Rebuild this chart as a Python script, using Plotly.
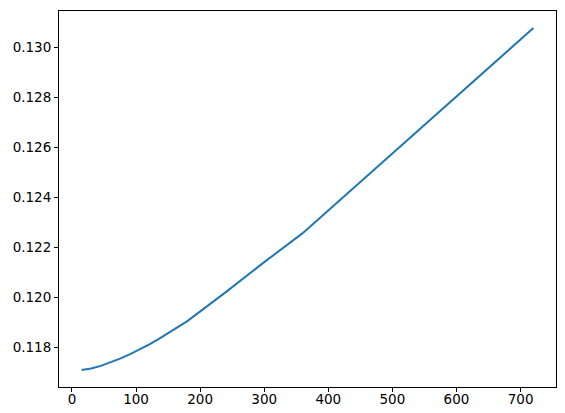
import plotly.graph_objects as go

x_values = [15, 30, 45, 60, 75, 90, 105, 120, 135, 150, 165, 180, 240, 300, 360, 720]
y_values = [0.11709, 0.11715, 0.11725, 0.11738, 0.11754, 0.11771, 0.11790, 0.11810,
            0.11832, 0.11855, 0.11879, 0.11904, 0.12020, 0.12140, 0.12256, 0.13076]
x_ticks = [0, 100, 200, 300, 400, 500, 600, 700]
y_ticks = [0.118, 0.120, 0.122, 0.124, 0.126, 0.128, 0.130]

xmin, xmax = min(x_values), max(x_values)
ymin, ymax = min(y_values), max(y_values)
xpad = 0.05 * (xmax - xmin)
ypad = 0.05 * (ymax - ymin)

fig = go.Figure(go.Scatter(x=x_values, y=y_values, mode="lines",
                           line=dict(color="#1f77b4", width=2)))

axis_common = dict(showline=True, linecolor="black", linewidth=1, mirror=True,
                   ticks="outside", ticklen=4, tickwidth=1, tickcolor="black",
                   showgrid=False, zeroline=False, automargin=False,
                   tickfont=dict(family="DejaVu Sans", size=13.5, color="black"))

# the page body adds an 8px offset, so the figure is sized to fit the window
fig.update_layout(
    width=557, height=405,
    paper_bgcolor="white", plot_bgcolor="white",
    margin=dict(l=51, r=9, t=3, b=26),
    showlegend=False,
    xaxis=dict(range=[xmin - xpad, xmax + xpad], tickvals=x_ticks,
               ticktext=[str(v) for v in x_ticks], ticklabelstandoff=-4,
               **axis_common),
    yaxis=dict(range=[ymin - ypad, ymax + ypad], tickvals=y_ticks,
               ticktext=[f"{v:.3f}" for v in y_ticks], **axis_common),
)

fig.write_html("out.html")
